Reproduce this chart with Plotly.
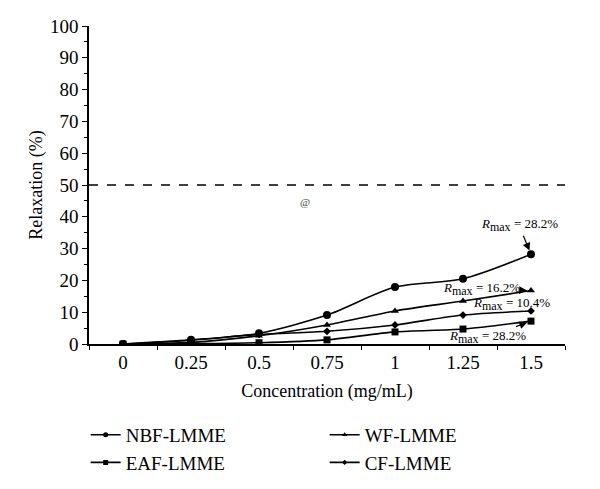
import plotly.graph_objects as go

concentrations = ["0", "0.25", "0.5", "0.75", "1", "1.25", "1.5"]
nbf = [0.0, 1.3, 3.4, 9.1, 17.9, 20.5, 28.2]
wf = [0.0, 0.5, 2.6, 6.0, 10.4, 13.5, 16.8]
eaf = [0.0, 0.1, 0.4, 1.3, 3.8, 4.7, 7.2]
cf = [0.0, 1.2, 3.0, 4.0, 6.0, 9.1, 10.4]

FONT = "Liberation Serif, Times New Roman, DejaVu Serif, serif"

fig = go.Figure()

def add(name, vals, symbol, size, lsize):
    fig.add_trace(go.Scatter(
        x=concentrations, y=vals, name=name, mode="lines+markers",
        line=dict(color="black", width=1.6, shape="spline", smoothing=0.8),
        marker=dict(symbol=symbol, size=size, color="black"),
        showlegend=False,
    ))
    # legend-only entry with small marker
    fig.add_trace(go.Scatter(
        x=[None], y=[None], name=name, mode="lines+markers",
        line=dict(color="black", width=1.6),
        marker=dict(symbol=symbol, size=lsize, color="black"),
        showlegend=True,
    ))

add("NBF-LMME", nbf, "circle", 8, 5)
add("WF-LMME", wf, "triangle-up", 7, 5)
add("EAF-LMME", eaf, "square", 7, 5)
add("CF-LMME", cf, "diamond", 6, 4)

fig.add_shape(type="line", xref="paper", yref="y", x0=0, x1=1, y0=50, y1=50,
              line=dict(color="black", width=1.5, dash="dash"))

ann_font = dict(family=FONT, size=13, color="black")
arrow = dict(showarrow=True, arrowhead=2, arrowsize=1.3, arrowwidth=1.2,
             arrowcolor="black", standoff=4)
RMAX = "<i>R</i><sub><span style='font-size:12px'>max</span></sub>"
fig.add_annotation(x=6, y=28.2, xref="x", yref="y", ax=-12, ay=-29,
                   text=RMAX + " = 28.2%", font=ann_font, **arrow)
fig.add_annotation(x=6, y=16.8, xref="x", yref="y", ax=-50, ay=-2,
                   text=RMAX + " = 16.2%", font=ann_font, **arrow)
fig.add_annotation(x=5.72, y=12.6, xref="x", yref="y",
                   text=RMAX + " = 10.4%", showarrow=False, font=ann_font)
fig.add_annotation(x=6, y=7.2, xref="x", yref="y", ax=-44, ay=16,
                   text=RMAX + " = 28.2%", font=ann_font, **arrow)
fig.add_annotation(x=2.68, y=44.7, xref="x", yref="y", text="@", showarrow=False,
                   font=dict(family=FONT, size=11, color="#444"))

fig.update_layout(
    width=600, height=489,
    margin=dict(l=81, r=43, t=18, b=153, autoexpand=False),
    paper_bgcolor="white", plot_bgcolor="white",
    font=dict(family=FONT, size=19, color="black"),
    showlegend=True,
    legend=dict(orientation="h", x=-0.007, y=-0.226, xanchor="left", yanchor="top",
                entrywidth=194, entrywidthmode="pixels",
                font=dict(family=FONT, size=19, color="black"),
                traceorder="normal", tracegroupgap=0),
    xaxis=dict(type="category", range=[-0.5, 6.5], showline=True, linecolor="black",
               linewidth=1.5, ticks="outside", tickson="boundaries", ticklen=4,
               tickcolor="black", showgrid=False, zeroline=False, automargin=False,
               tickfont=dict(size=19),
               title=dict(text="Concentration (mg/mL)", font=dict(size=18), standoff=13)),
    yaxis=dict(range=[0, 100], dtick=10, showline=True, linecolor="black",
               linewidth=1.5, ticks="outside", ticklen=5, tickcolor="black",
               showgrid=False, zeroline=False, automargin=False,
               tickfont=dict(size=19),
               minor=dict(dtick=5, ticks="outside", ticklen=3, tickcolor="black"),
               title=dict(text="Relaxation (%)", font=dict(size=18), standoff=3)),
)

fig.write_html("out.html")
